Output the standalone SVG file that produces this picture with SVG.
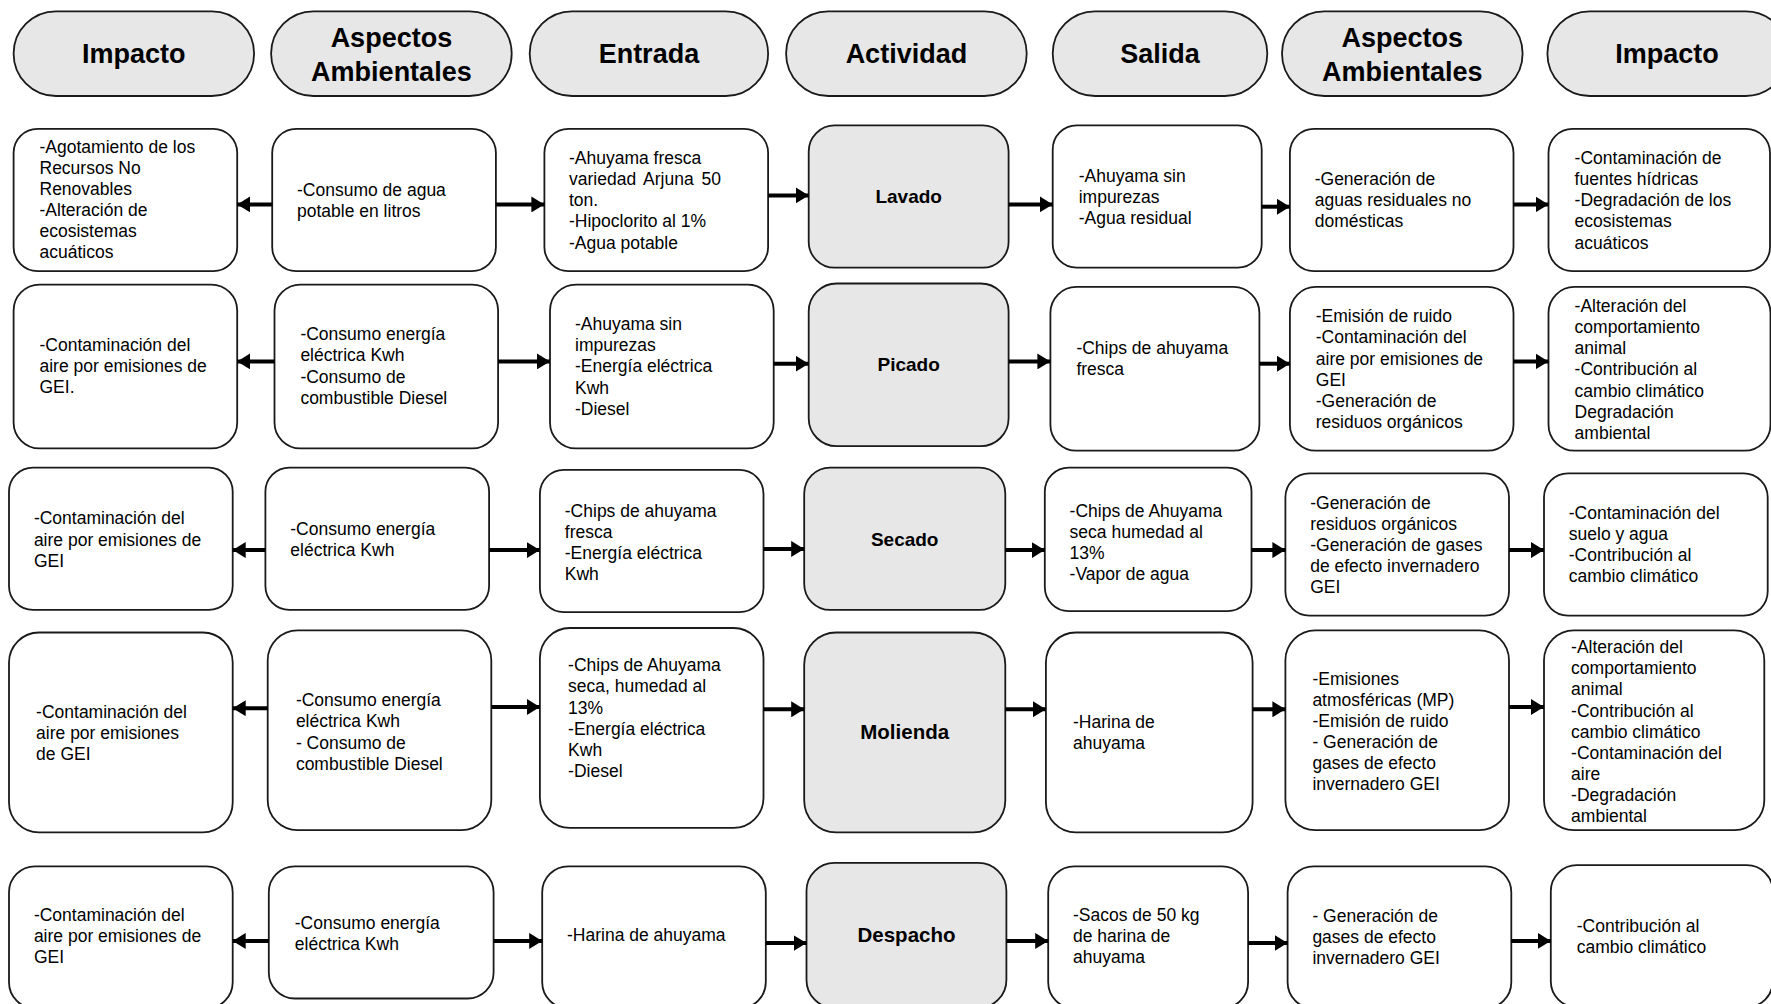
<svg xmlns="http://www.w3.org/2000/svg" width="1771" height="1004" viewBox="0 0 1771 1004">
<style>
.hdr{fill:#e7e7e7;stroke:#1a1a1a;stroke-width:1.8}
.box{fill:#fff;stroke:#1a1a1a;stroke-width:1.8}
.act{fill:#e7e7e7;stroke:#1a1a1a;stroke-width:1.8}
.ht{font-family:"Liberation Sans",Arial,sans-serif;font-weight:bold;font-size:27px;fill:#000;text-anchor:middle}
.t{font-family:"Liberation Sans",Arial,sans-serif;font-size:17.5px;fill:#000}
.at{font-family:"Liberation Sans",Arial,sans-serif;font-weight:bold;font-size:19px;fill:#000;text-anchor:middle}
.at2{font-family:"Liberation Sans",Arial,sans-serif;font-weight:bold;font-size:20.5px;fill:#000;text-anchor:middle}
.c{stroke:#000;stroke-width:4;fill:none;marker-end:url(#ah)}
</style>
<defs>
<marker id="ah" markerUnits="userSpaceOnUse" markerWidth="14" markerHeight="16" refX="13" refY="8" orient="auto">
<path d="M0,0 L13,8 L0,16 Z" fill="#000"/>
</marker>
</defs>
<rect width="1771" height="1004" fill="#fff"/>

<!-- Headers -->
<g id="h-impacto1"><rect class="hdr" x="13.6" y="11.3" width="240.5" height="84.7" rx="42.3"/><text class="ht" x="133.8" y="62.7">Impacto</text></g>
<g id="h-aspectos1"><rect class="hdr" x="271.1" y="11.3" width="240.6" height="84.7" rx="42.3"/><text class="ht" x="391.4" y="47">Aspectos</text><text class="ht" x="391.4" y="81">Ambientales</text></g>
<g id="h-entrada"><rect class="hdr" x="529.7" y="11.3" width="238.4" height="84.7" rx="42.3"/><text class="ht" x="648.9" y="62.7">Entrada</text></g>
<g id="h-actividad"><rect class="hdr" x="786.1" y="11.3" width="240.6" height="84.7" rx="42.3"/><text class="ht" x="906.4" y="62.7">Actividad</text></g>
<g id="h-salida"><rect class="hdr" x="1052.7" y="11.3" width="214.6" height="84.7" rx="42.3"/><text class="ht" x="1160" y="62.7">Salida</text></g>
<g id="h-aspectos2"><rect class="hdr" x="1282" y="11.3" width="240.6" height="84.7" rx="42.3"/><text class="ht" x="1402.3" y="47">Aspectos</text><text class="ht" x="1402.3" y="81">Ambientales</text></g>
<g id="h-impacto2"><rect class="hdr" x="1547.4" y="11.3" width="240.6" height="84.7" rx="42.3"/><text class="ht" x="1667" y="62.7">Impacto</text></g>

<!-- Row 1: Lavado -->
<g id="r1-impacto"><rect class="box" x="13.6" y="128.8" width="223.6" height="142.3" rx="24"/>
<text class="t"><tspan x="39.5" y="152.8">-Agotamiento de los</tspan><tspan x="39.5" dy="21.1">Recursos No</tspan><tspan x="39.5" dy="21.1">Renovables</tspan><tspan x="39.5" dy="21.1">-Alteración de</tspan><tspan x="39.5" dy="21.1">ecosistemas</tspan><tspan x="39.5" dy="21.1">acuáticos</tspan></text></g>
<g id="r1-aspectos"><rect class="box" x="272.2" y="128.8" width="223.7" height="142.3" rx="24"/>
<text class="t"><tspan x="297" y="195.8">-Consumo de agua</tspan><tspan x="297" dy="21.1">potable en litros</tspan></text></g>
<g id="r1-entrada"><rect class="box" x="544.4" y="128.8" width="223.7" height="142.3" rx="24"/>
<text class="t"><tspan x="569" y="164.1">-Ahuyama fresca</tspan><tspan x="569" dy="21.1" word-spacing="3">variedad Arjuna 50</tspan><tspan x="569" dy="21.1">ton.</tspan><tspan x="569" dy="21.1">-Hipoclorito al 1%</tspan><tspan x="569" dy="21.1">-Agua potable</tspan></text></g>
<g id="r1-lavado"><rect class="act" x="808.7" y="125.4" width="199.9" height="142.3" rx="26"/>
<text class="at" x="908.7" y="203">Lavado</text></g>
<g id="r1-salida"><rect class="box" x="1052.7" y="125.4" width="209" height="142.3" rx="24"/>
<text class="t"><tspan x="1078.7" y="182.2">-Ahuyama sin</tspan><tspan x="1078.7" dy="21.1">impurezas</tspan><tspan x="1078.7" dy="21.1">-Agua residual</tspan></text></g>
<g id="r1-aspectos2"><rect class="box" x="1289.9" y="128.8" width="223.6" height="142.3" rx="24"/>
<text class="t"><tspan x="1314.7" y="184.5">-Generación de</tspan><tspan x="1314.7" dy="21.1">aguas residuales no</tspan><tspan x="1314.7" dy="21.1">domésticas</tspan></text></g>
<g id="r1-impacto2"><rect class="box" x="1548.5" y="128.8" width="221.5" height="142.3" rx="24"/>
<text class="t"><tspan x="1574.6" y="164.1">-Contaminación de</tspan><tspan x="1574.6" dy="21.1">fuentes hídricas</tspan><tspan x="1574.6" dy="21.1">-Degradación de los</tspan><tspan x="1574.6" dy="21.1">ecosistemas</tspan><tspan x="1574.6" dy="21.1">acuáticos</tspan></text></g>

<!-- Row 2: Picado -->
<g id="r2-impacto"><rect class="box" x="13.6" y="284.6" width="223.6" height="163.8" rx="26"/>
<text class="t"><tspan x="39.5" y="350.5">-Contaminación del</tspan><tspan x="39.5" dy="21.1">aire por emisiones de</tspan><tspan x="39.5" dy="21.1">GEI.</tspan></text></g>
<g id="r2-aspectos"><rect class="box" x="274.5" y="284.6" width="223.6" height="163.8" rx="26"/>
<text class="t"><tspan x="300.4" y="340.3">-Consumo energía</tspan><tspan x="300.4" dy="21.1">eléctrica Kwh</tspan><tspan x="300.4" dy="21.1">-Consumo de</tspan><tspan x="300.4" dy="21.1">combustible Diesel</tspan></text></g>
<g id="r2-entrada"><rect class="box" x="550" y="284.6" width="223.7" height="163.8" rx="26"/>
<text class="t"><tspan x="575" y="330.2">-Ahuyama sin</tspan><tspan x="575" dy="21.1">impurezas</tspan><tspan x="575" dy="21.1">-Energía eléctrica</tspan><tspan x="575" dy="21.1">Kwh</tspan><tspan x="575" dy="21.1">-Diesel</tspan></text></g>
<g id="r2-picado"><rect class="act" x="808.7" y="283.5" width="199.9" height="162.7" rx="28"/>
<text class="at" x="908.7" y="371.3">Picado</text></g>
<g id="r2-salida"><rect class="box" x="1050.4" y="286.9" width="209" height="163.8" rx="26"/>
<text class="t"><tspan x="1076.4" y="353.9">-Chips de ahuyama</tspan><tspan x="1076.4" dy="21.1">fresca</tspan></text></g>
<g id="r2-aspectos2"><rect class="box" x="1289.9" y="286.9" width="223.6" height="163.8" rx="26"/>
<text class="t"><tspan x="1315.8" y="322.3">-Emisión de ruido</tspan><tspan x="1315.8" dy="21.1">-Contaminación del</tspan><tspan x="1315.8" dy="21.1">aire por emisiones de</tspan><tspan x="1315.8" dy="21.1">GEI</tspan><tspan x="1315.8" dy="21.1">-Generación de</tspan><tspan x="1315.8" dy="21.1">residuos orgánicos</tspan></text></g>
<g id="r2-impacto2"><rect class="box" x="1548.5" y="286.9" width="222" height="163.8" rx="26"/>
<text class="t"><tspan x="1574.6" y="312.1">-Alteración del</tspan><tspan x="1574.6" dy="21.1">comportamiento</tspan><tspan x="1574.6" dy="21.1">animal</tspan><tspan x="1574.6" dy="21.1">-Contribución al</tspan><tspan x="1574.6" dy="21.1">cambio climático</tspan><tspan x="1574.6" dy="21.1">Degradación</tspan><tspan x="1574.6" dy="21.1">ambiental</tspan></text></g>

<!-- Row 3: Secado -->
<g id="r3-impacto"><rect class="box" x="9" y="467.6" width="223.7" height="142.3" rx="24"/>
<text class="t"><tspan x="33.9" y="524.4">-Contaminación del</tspan><tspan x="33.9" dy="21.1">aire por emisiones de</tspan><tspan x="33.9" dy="21.1">GEI</tspan></text></g>
<g id="r3-aspectos"><rect class="box" x="265.4" y="467.6" width="223.7" height="142.3" rx="24"/>
<text class="t"><tspan x="290.3" y="534.6">-Consumo energía</tspan><tspan x="290.3" dy="21.1">eléctrica Kwh</tspan></text></g>
<g id="r3-entrada"><rect class="box" x="539.9" y="469.9" width="223.6" height="142.3" rx="24"/>
<text class="t"><tspan x="564.8" y="516.5">-Chips de ahuyama</tspan><tspan x="564.8" dy="21.1">fresca</tspan><tspan x="564.8" dy="21.1">-Energía eléctrica</tspan><tspan x="564.8" dy="21.1">Kwh</tspan></text></g>
<g id="r3-secado"><rect class="act" x="804.2" y="467.6" width="201.1" height="142.3" rx="26"/>
<text class="at" x="904.7" y="546.4">Secado</text></g>
<g id="r3-salida"><rect class="box" x="1044.8" y="467.6" width="206.7" height="143.5" rx="24"/>
<text class="t"><tspan x="1069.6" y="516.5">-Chips de Ahuyama</tspan><tspan x="1069.6" dy="21.1">seca humedad al</tspan><tspan x="1069.6" dy="21.1">13%</tspan><tspan x="1069.6" dy="21.1">-Vapor de agua</tspan></text></g>
<g id="r3-aspectos2"><rect class="box" x="1285.4" y="473.3" width="223.6" height="142.3" rx="24"/>
<text class="t"><tspan x="1310.2" y="508.6">-Generación de</tspan><tspan x="1310.2" dy="21.1">residuos orgánicos</tspan><tspan x="1310.2" dy="21.1">-Generación de gases</tspan><tspan x="1310.2" dy="21.1">de efecto invernadero</tspan><tspan x="1310.2" dy="21.1">GEI</tspan></text></g>
<g id="r3-impacto2"><rect class="box" x="1544" y="473.3" width="223.7" height="142.3" rx="24"/>
<text class="t"><tspan x="1568.8" y="518.8">-Contaminación del</tspan><tspan x="1568.8" dy="21.1">suelo y agua</tspan><tspan x="1568.8" dy="21.1">-Contribución al</tspan><tspan x="1568.8" dy="21.1">cambio climático</tspan></text></g>

<!-- Row 4: Molienda -->
<g id="r4-impacto"><rect class="box" x="9" y="632.5" width="223.7" height="199.9" rx="30"/>
<text class="t"><tspan x="36.1" y="717.6">-Contaminación del</tspan><tspan x="36.1" dy="21.1">aire por emisiones</tspan><tspan x="36.1" dy="21.1">de GEI</tspan></text></g>
<g id="r4-aspectos"><rect class="box" x="267.7" y="630.3" width="223.6" height="199.9" rx="30"/>
<text class="t"><tspan x="295.9" y="706.3">-Consumo energía</tspan><tspan x="295.9" dy="21.1">eléctrica Kwh</tspan><tspan x="295.9" dy="21.1">- Consumo de</tspan><tspan x="295.9" dy="21.1">combustible Diesel</tspan></text></g>
<g id="r4-entrada"><rect class="box" x="539.9" y="628" width="223.6" height="199.9" rx="30"/>
<text class="t"><tspan x="568.1" y="671.3">-Chips de Ahuyama</tspan><tspan x="568.1" dy="21.1">seca, humedad al</tspan><tspan x="568.1" dy="21.1">13%</tspan><tspan x="568.1" dy="21.1">-Energía eléctrica</tspan><tspan x="568.1" dy="21.1">Kwh</tspan><tspan x="568.1" dy="21.1">-Diesel</tspan></text></g>
<g id="r4-molienda"><rect class="act" x="804.2" y="632.5" width="201.1" height="199.9" rx="32"/>
<text class="at2" x="904.7" y="739">Molienda</text></g>
<g id="r4-salida"><rect class="box" x="1045.9" y="632.5" width="206.7" height="199.9" rx="30"/>
<text class="t"><tspan x="1073" y="727.8">-Harina de</tspan><tspan x="1073" dy="21.1">ahuyama</tspan></text></g>
<g id="r4-aspectos2"><rect class="box" x="1285.4" y="630.3" width="223.6" height="199.9" rx="30"/>
<text class="t"><tspan x="1312.4" y="684.8">-Emisiones</tspan><tspan x="1312.4" dy="21.1">atmosféricas (MP)</tspan><tspan x="1312.4" dy="21.1">-Emisión de ruido</tspan><tspan x="1312.4" dy="21.1">- Generación de</tspan><tspan x="1312.4" dy="21.1">gases de efecto</tspan><tspan x="1312.4" dy="21.1">invernadero GEI</tspan></text></g>
<g id="r4-impacto2"><rect class="box" x="1544" y="630.3" width="220.3" height="199.9" rx="30"/>
<text class="t"><tspan x="1571.1" y="653.2">-Alteración del</tspan><tspan x="1571.1" dy="21.1">comportamiento</tspan><tspan x="1571.1" dy="21.1">animal</tspan><tspan x="1571.1" dy="21.1">-Contribución al</tspan><tspan x="1571.1" dy="21.1">cambio climático</tspan><tspan x="1571.1" dy="21.1">-Contaminación del</tspan><tspan x="1571.1" dy="21.1">aire</tspan><tspan x="1571.1" dy="21.1">-Degradación</tspan><tspan x="1571.1" dy="21.1">ambiental</tspan></text></g>

<!-- Row 5: Despacho -->
<g id="r5-impacto"><rect class="box" x="9" y="866.3" width="223.7" height="142" rx="26"/>
<text class="t"><tspan x="33.9" y="920.9">-Contaminación del</tspan><tspan x="33.9" dy="21.1">aire por emisiones de</tspan><tspan x="33.9" dy="21.1">GEI</tspan></text></g>
<g id="r5-aspectos"><rect class="box" x="268.8" y="866.3" width="224.8" height="132.2" rx="26"/>
<text class="t"><tspan x="294.8" y="928.8">-Consumo energía</tspan><tspan x="294.8" dy="21.1">eléctrica Kwh</tspan></text></g>
<g id="r5-entrada"><rect class="box" x="542.2" y="866.3" width="223.6" height="142" rx="26"/>
<text class="t"><tspan x="567" y="941.2">-Harina de ahuyama</tspan></text></g>
<g id="r5-despacho"><rect class="act" x="806.5" y="862.9" width="199.9" height="145" rx="28"/>
<text class="at2" x="906.5" y="942.2">Despacho</text></g>
<g id="r5-salida"><rect class="box" x="1048.2" y="866.3" width="199.9" height="142" rx="26"/>
<text class="t"><tspan x="1073" y="920.9">-Sacos de 50 kg</tspan><tspan x="1073" dy="21.1">de harina de</tspan><tspan x="1073" dy="21.1">ahuyama</tspan></text></g>
<g id="r5-aspectos2"><rect class="box" x="1287.6" y="866.3" width="223.7" height="142" rx="26"/>
<text class="t"><tspan x="1312.4" y="922">- Generación de</tspan><tspan x="1312.4" dy="21.1">gases de efecto</tspan><tspan x="1312.4" dy="21.1">invernadero GEI</tspan></text></g>
<g id="r5-impacto2"><rect class="box" x="1550.8" y="865.2" width="222" height="142" rx="26"/>
<text class="t"><tspan x="1576.8" y="932.2">-Contribución al</tspan><tspan x="1576.8" dy="21.1">cambio climático</tspan></text></g>

<!-- Connectors -->
<g id="connectors">
<line class="c" x1="272.2" y1="204.4" x2="237.2" y2="204.4"/>
<line class="c" x1="495.9" y1="204.4" x2="544.4" y2="204.4"/>
<line class="c" x1="768.1" y1="195.4" x2="808.7" y2="195.4"/>
<line class="c" x1="1008.6" y1="204.4" x2="1052.7" y2="204.4"/>
<line class="c" x1="1261.7" y1="206.7" x2="1289.9" y2="206.7"/>
<line class="c" x1="1513.5" y1="204.4" x2="1548.5" y2="204.4"/>

<line class="c" x1="274.5" y1="361.4" x2="237.2" y2="361.4"/>
<line class="c" x1="498.1" y1="361.4" x2="550" y2="361.4"/>
<line class="c" x1="773.7" y1="363.7" x2="808.7" y2="363.7"/>
<line class="c" x1="1008.6" y1="361.4" x2="1050.4" y2="361.4"/>
<line class="c" x1="1259.4" y1="363.7" x2="1289.9" y2="363.7"/>
<line class="c" x1="1513.5" y1="361.4" x2="1548.5" y2="361.4"/>

<line class="c" x1="265.4" y1="550.1" x2="232.7" y2="550.1"/>
<line class="c" x1="489.1" y1="550.1" x2="539.9" y2="550.1"/>
<line class="c" x1="763.5" y1="548.9" x2="804.2" y2="548.9"/>
<line class="c" x1="1005.3" y1="550.1" x2="1044.8" y2="550.1"/>
<line class="c" x1="1251.5" y1="550.1" x2="1285.4" y2="550.1"/>
<line class="c" x1="1509" y1="550.1" x2="1544" y2="550.1"/>

<line class="c" x1="267.7" y1="708.2" x2="232.7" y2="708.2"/>
<line class="c" x1="491.3" y1="707" x2="539.9" y2="707"/>
<line class="c" x1="763.5" y1="709.3" x2="804.2" y2="709.3"/>
<line class="c" x1="1005.3" y1="709.3" x2="1045.9" y2="709.3"/>
<line class="c" x1="1252.6" y1="709.3" x2="1285.4" y2="709.3"/>
<line class="c" x1="1509" y1="707" x2="1544" y2="707"/>

<line class="c" x1="268.8" y1="940.9" x2="232.7" y2="940.9"/>
<line class="c" x1="493.6" y1="940.9" x2="542.2" y2="940.9"/>
<line class="c" x1="765.8" y1="943.1" x2="806.5" y2="943.1"/>
<line class="c" x1="1006.4" y1="940.9" x2="1048.2" y2="940.9"/>
<line class="c" x1="1248.1" y1="943.1" x2="1287.6" y2="943.1"/>
<line class="c" x1="1511.3" y1="940.9" x2="1550.8" y2="940.9"/>
</g>
</svg>
